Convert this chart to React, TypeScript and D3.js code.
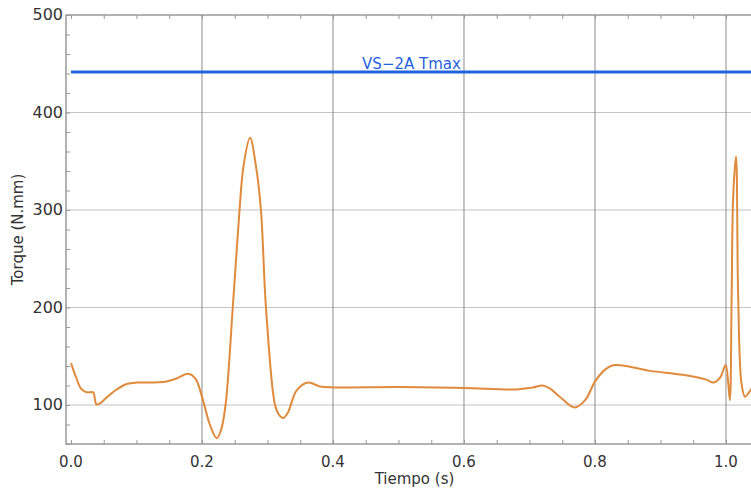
import * as d3 from "d3";
import { useRef, useEffect } from "react";

// time (s) and torque (N.mm)
const tiempo = [
  0.0, 0.008, 0.015, 0.022, 0.03, 0.034, 0.037, 0.039, 0.045, 0.055, 0.07, 0.085, 0.1, 0.12, 0.14,
  0.16, 0.179, 0.19, 0.2015, 0.212, 0.2225, 0.229, 0.236, 0.247, 0.2573, 0.2634, 0.2733, 0.2824, 0.29,
  0.2977, 0.3115, 0.3176, 0.324, 0.331, 0.3446, 0.362, 0.38, 0.4, 0.5, 0.6, 0.68, 0.705, 0.72, 0.731,
  0.747, 0.769, 0.785, 0.8, 0.815, 0.83, 0.884, 0.934, 0.97, 0.981, 0.991, 0.9995, 1.0035, 1.006,
  1.0086, 1.011, 1.0153, 1.0186, 1.0237, 1.029, 1.034, 1.04,
];
const torque = [
  143, 128, 117, 113.5, 113, 113, 104, 100.5, 102, 108, 116, 121.5, 123, 123, 123.5,
  127, 132, 127, 105, 80, 66, 74, 100, 200, 300, 345, 374, 345, 300,
  200, 100, 90, 86.6, 92, 115, 123, 119, 118, 118.5, 117.5, 116, 118, 120, 117,
  108, 97.5, 105, 124, 136, 141, 135, 131, 126, 123, 128, 141, 122, 105,
  211, 314, 355, 211, 122, 108.5, 112, 118,
];
const tmax = 441.5;
const tmaxLabel = "VS\u22122A Tmax";
const xTicks = [0, 0.2, 0.4, 0.6, 0.8, 1.0];
const yTicks = [100, 200, 300, 400, 500];

const W = 751;
const H = 491;
const left = 66;
const right = 763;
const top = 15;
const bottom = 444;
const font = "DejaVu Sans, sans-serif";

export default function App() {
  const gx = useRef<SVGGElement>(null);
  const gy = useRef<SVGGElement>(null);
  const gt = useRef<SVGGElement>(null);
  const gr = useRef<SVGGElement>(null);

  const x = d3.scaleLinear([-0.0076, 1.0565], [left, right]);
  const y = d3.scaleLinear([60, 500], [bottom, top]);
  const data = tiempo.map((t, i) => ({ t, v: torque[i] }));
  const line = d3
    .line<{ t: number; v: number }>()
    .x((d) => x(d.t))
    .y((d) => y(d.v))
    .curve(d3.curveCatmullRom.alpha(0.5));

  const xMinor = d3.range(0, 1.06, 0.05);
  const yMinor = d3.range(60, 501, 20);

  useEffect(() => {
    const style = (g: d3.Selection<SVGGElement, unknown, null, undefined>) => {
      g.select(".domain").remove();
      g.selectAll("line").attr("stroke", "#999");
    };
    d3.select(gx.current!)
      .call(d3.axisBottom(x).tickValues(xMinor).tickSize(-4).tickFormat(() => ""))
      .call(style);
    d3.select(gt.current!)
      .call(d3.axisTop(x).tickValues(xMinor).tickSize(-4).tickFormat(() => ""))
      .call(style);
    d3.select(gy.current!)
      .call(d3.axisLeft(y).tickValues(yMinor).tickSize(-4).tickFormat(() => ""))
      .call(style);
    d3.select(gr.current!)
      .call(d3.axisRight(y).tickValues(yMinor).tickSize(-4).tickFormat(() => ""))
      .call(style);
  }, []);

  return (
    <div style={{ position: "fixed", left: 0, top: 0 }}>
      <svg width={W} height={H} style={{ display: "block", background: "#fff" }}>
        <defs>
          <clipPath id="plot">
            <rect x={left} y={top} width={right - left} height={bottom - top} />
          </clipPath>
        </defs>
        {yTicks.slice(0, -1).map((v) => (
          <line key={v} x1={left} x2={right} y1={y(v)} y2={y(v)} stroke="#c4c4c4" strokeWidth={1.2} />
        ))}
        {xTicks.slice(1).map((t) => (
          <line key={t} x1={x(t)} x2={x(t)} y1={top} y2={bottom} stroke="#8a8a8a" strokeWidth={1} />
        ))}
        <g ref={gx} transform={`translate(0,${bottom})`} />
        <g ref={gt} transform={`translate(0,${top})`} />
        <g ref={gy} transform={`translate(${left},0)`} />
        <g ref={gr} transform={`translate(${right},0)`} />
        <rect x={left} y={top} width={right - left} height={bottom - top} fill="none" stroke="#999" strokeWidth={1.5} />
        <g clipPath="url(#plot)">
          <line x1={x(0)} x2={right} y1={y(tmax)} y2={y(tmax)} stroke="#1f62e0" strokeWidth={3} />
          <path d={line(data) ?? ""} fill="none" stroke="#e08a3c" strokeWidth={2} />
        </g>
        <text x={(left + right) / 2 - 3} y={y(tmax) - 3} textAnchor="middle" fill="#1f62e0" fontFamily={font} fontSize={15}>
          {tmaxLabel}
        </text>
        {xTicks.map((t) => (
          <text key={t} x={x(t)} y={bottom + 23} textAnchor="middle" fill="#333" fontFamily={font} fontSize={15}>
            {d3.format(".1f")(t)}
          </text>
        ))}
        {yTicks.map((v) => (
          <text key={v} x={left - 3} y={y(v) + 5} textAnchor="end" fill="#333" fontFamily={font} fontSize={16}>
            {v}
          </text>
        ))}
        <text x={(left + right) / 2} y={484} textAnchor="middle" fill="#333" fontFamily={font} fontSize={15}>
          Tiempo (s)
        </text>
        <text
          transform={`translate(23,${(top + bottom) / 2}) rotate(-90)`}
          textAnchor="middle"
          fill="#333"
          fontFamily={font}
          fontSize={15}
        >
          Torque (N.mm)
        </text>
      </svg>
    </div>
  );
}
